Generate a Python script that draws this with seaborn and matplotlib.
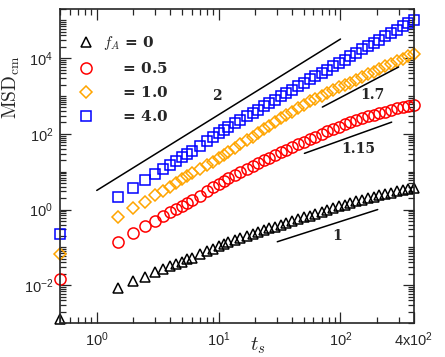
import numpy as np
import pandas as pd
import matplotlib
matplotlib.use("Agg")
import matplotlib.pyplot as plt
import seaborn as sns
from matplotlib.ticker import FixedLocator, LogLocator, NullFormatter

# time values (t_s) shared by all series
t_s = [0.5, 1.5, 2, 2.5, 3, 3.5, 4, 4.5, 5, 5.5, 6, 7, 8, 9, 10, 11, 12, 13.5, 15, 17,
       19, 21, 23.5, 26, 29, 32.5, 36, 40, 45, 50, 56, 62, 70, 78, 87, 97, 108, 120,
       135, 150, 168, 187, 208, 232, 260, 290, 325, 360, 400]

msd_f0 = [0.00126, 0.0085, 0.0129, 0.0166, 0.0219, 0.0275, 0.0316, 0.0363, 0.0417, 0.0479,
          0.0537, 0.0661, 0.0794, 0.0933, 0.110, 0.123, 0.138, 0.155, 0.174, 0.200,
          0.229, 0.251, 0.288, 0.316, 0.355, 0.398, 0.437, 0.490, 0.550, 0.617,
          0.692, 0.776, 0.871, 0.977, 1.10, 1.23, 1.35, 1.48, 1.66, 1.82,
          2.00, 2.19, 2.40, 2.63, 2.82, 3.09, 3.31, 3.55, 3.80]

msd_f05 = [0.0148, 0.138, 0.245, 0.372, 0.513, 0.692, 0.851, 1.02, 1.23, 1.48,
           1.74, 2.34, 3.09, 3.89, 4.79, 5.75, 6.76, 8.32, 10.0, 12.0,
           14.5, 17.0, 20.0, 23.4, 27.5, 32.4, 38.0, 44.7, 52.5, 61.7,
           72.4, 85.1, 100, 117, 135, 155, 178, 200, 229, 257,
           288, 324, 355, 389, 427, 468, 501, 537, 575]

msd_f1 = [0.0676, 0.617, 1.07, 1.62, 2.40, 3.16, 3.98, 5.01, 6.31, 7.59,
          9.12, 12.0, 15.1, 18.6, 22.4, 27.5, 33.1, 41.7, 52.5, 67.6,
          85.1, 105, 132, 162, 204, 257, 316, 389, 490, 589,
          724, 851, 1023, 1202, 1445, 1698, 1905, 2239, 2692, 3162,
          3715, 4365, 5129, 6026, 7079, 8318, 9772, 11482, 13183]

msd_f4 = [0.229, 2.19, 3.80, 5.89, 8.51, 11.7, 15.1, 19.1, 24.0, 29.5,
          35.5, 49.0, 64.6, 83.2, 105, 126, 151, 191, 234, 295,
          363, 437, 537, 646, 794, 977, 1202, 1445, 1820, 2188,
          2754, 3311, 4074, 5012, 6166, 7586, 9120, 11220, 13804, 16982,
          20893, 25704, 30903, 38019, 46774, 56234, 69183, 83176, 100000]

labels = [r"$f_A$ = 0", r"$\quad\;\,$= 0.5", r"$\quad\;\,$= 1.0", r"$\quad\;\,$= 4.0"]
colors = ["black", "red", "orange", "blue"]
markers = ["^", "o", "D", "s"]
msizes = [7, 8, 6, 7]

# power-law guide lines: (t range, msd range, label, label position)
guide_t = [[1, 100], [71, 300], [50.6, 263], [30.3, 202]]
guide_y = [[3.2, 32000], [510, 5850], [30.5, 204], [0.141, 1.0]]
guide_txt = ["2", "1.7", "1.15", "1"]
guide_pos = [(9.7, 1000), (183, 1050), (141, 41), (94.5, 0.2)]

sns.set_style("ticks")
plt.rcParams["font.family"] = ["Liberation Sans", "DejaVu Sans"]
plt.rcParams["mathtext.fontset"] = "custom"
plt.rcParams["mathtext.rm"] = "Liberation Sans"
plt.rcParams["mathtext.it"] = "Liberation Sans:italic"
plt.rcParams["mathtext.bf"] = "Liberation Sans:bold"

fig = plt.figure(figsize=(4.45, 3.57), dpi=100)
ax = fig.add_axes([0.135, 0.095, 0.795, 0.88])

series = [msd_f0, msd_f05, msd_f1, msd_f4]
for ys, lab, c, m, ms in zip(series, labels, colors, markers, msizes):
    df = pd.DataFrame({"t": t_s, "msd": ys})
    sns.lineplot(data=df, x="t", y="msd", ax=ax, linestyle="", marker=m,
                 markersize=ms, markerfacecolor="none", markeredgecolor=c,
                 markeredgewidth=1.1, color=c, label=lab, clip_on=False)

for gt, gy, txt, pos in zip(guide_t, guide_y, guide_txt, guide_pos):
    ax.plot(gt, gy, color="black", lw=1.1)
    ax.text(pos[0], pos[1], txt, ha="center", va="center", fontsize=10,
            family="DejaVu Serif", weight="bold")

ax.set_xscale("log")
ax.set_yscale("log")
ax.set_xlim(0.5, 400)
ax.set_ylim(1e-3, 2e5)

ax.xaxis.set_major_locator(FixedLocator([1, 10, 100, 400]))
ax.set_xticklabels([r"10$^0$", r"10$^1$", r"10$^2$", r"4x10$^2$"])
ax.xaxis.set_minor_locator(LogLocator(base=10, subs=np.arange(2, 10), numticks=20))
ax.xaxis.set_minor_formatter(NullFormatter())
ax.yaxis.set_major_locator(FixedLocator([1e-2, 1, 1e2, 1e4]))
ax.set_yticklabels([r"10$^{-2}$", r"10$^0$", r"10$^2$", r"10$^4$"])
ax.yaxis.set_minor_locator(LogLocator(base=10, subs=np.arange(1, 10), numticks=20))
ax.yaxis.set_minor_formatter(NullFormatter())

ax.tick_params(which="both", direction="in", top=True, right=True, width=0.9,
               labelsize=10.5)
ax.tick_params(which="major", length=8, pad=5)
ax.tick_params(which="minor", length=4.3)
for sp in ax.spines.values():
    sp.set_linewidth(1.2)

ax.set_xlabel(r"$t_s$", fontsize=15, math_fontfamily="cm")
ax.xaxis.set_label_coords(0.56, -0.04)
ax.set_ylabel(r"$\mathrm{MSD}_\mathrm{cm}$", fontsize=14, math_fontfamily="cm")
ax.yaxis.set_label_coords(-0.107, 0.75)

leg = ax.legend(loc="upper left", bbox_to_anchor=(0.035, 0.94), frameon=False,
                handlelength=1.0, handletextpad=0.6, labelspacing=0.6,
                borderaxespad=0,
                prop={"family": "DejaVu Serif", "weight": "bold", "size": 11})
for tx in leg.get_texts():
    tx.set_math_fontfamily("cm")

fig.savefig("out.png", dpi=100)
